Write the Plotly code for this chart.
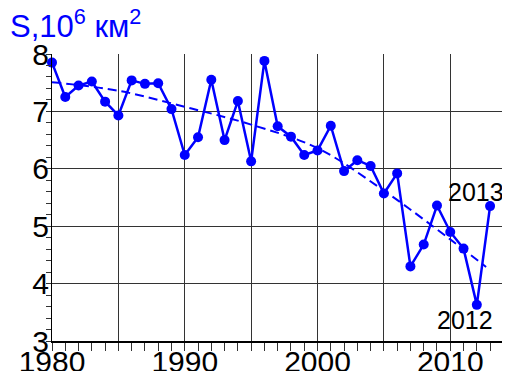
import plotly.graph_objects as go

years = list(range(1980, 2014))
extent = [7.85, 7.25, 7.45, 7.52, 7.17, 6.93, 7.54, 7.48, 7.49, 7.04,
          6.24, 6.55, 7.55, 6.50, 7.18, 6.13, 7.88, 6.74, 6.56, 6.24,
          6.32, 6.75, 5.96, 6.15, 6.05, 5.57, 5.92, 4.30, 4.68, 5.36,
          4.90, 4.61, 3.63, 5.35]

trend_years = [1980, 1985, 1990, 1995, 2000, 2005, 2010, 2012.7]
trend_vals = [7.51, 7.36, 7.08, 6.77, 6.36, 5.62, 4.77, 4.29]

x_grid = [1980, 1985, 1990, 1995, 2000, 2005, 2010]
x_text = ["1980", "", "1990", "", "2000", "", "2010"]
y_grid = [3, 4, 5, 6, 7, 8]
y_text = ["3", "4", "5", "6", "7", "8"]

title_text = "S,10<sup>6</sup> км<sup>2</sup>"
labels = [(2013, 5.35, "2013", -14, 14), (2012, 3.63, "2012", -12, -15)]

BLUE = "#0000FF"
FONT = "Liberation Sans, Arial, sans-serif"

# page offset compensation (body margin in the viewer)
W, H = 502, 363

fig = go.Figure()
fig.add_trace(go.Scatter(
    x=trend_years, y=trend_vals, mode="lines",
    line=dict(color=BLUE, width=2, dash="9px,5px", shape="spline"),
    hoverinfo="skip", cliponaxis=False))
fig.add_trace(go.Scatter(
    x=years, y=extent, mode="lines+markers",
    line=dict(color=BLUE, width=2.5),
    marker=dict(color=BLUE, size=10),
    cliponaxis=False))

for xv, yv, t, xs, ys in labels:
    fig.add_annotation(x=xv, y=yv, text=t, showarrow=False,
                       xshift=xs, yshift=ys,
                       font=dict(family=FONT, size=25, color="black"))

fig.update_layout(
    width=W, height=H,
    margin=dict(l=44, r=0, t=46, b=30, autoexpand=False),
    paper_bgcolor="white", plot_bgcolor="white",
    showlegend=False,
    title=dict(text=title_text, x=2/W, xanchor="left", xref="container",
               y=1-18/H, yanchor="middle", yref="container",
               automargin=False,
               font=dict(family=FONT, size=31, color=BLUE)),
    xaxis=dict(range=[1980, 2014.5], tickmode="array", tickvals=x_grid,
               ticktext=x_text, showgrid=True, gridcolor="#333", gridwidth=1,
               showline=True, linecolor="black", linewidth=2,
               ticks="", zeroline=False, automargin=False,
               ticklabelstandoff=-7,
               tickfont=dict(family=FONT, size=30, color="black"),
               minor=dict(dtick=1, tick0=1980, ticks="outside", ticklen=8,
                          tickcolor="#333", tickwidth=1, showgrid=False)),
    yaxis=dict(range=[3, 8], tickmode="array", tickvals=y_grid,
               ticktext=y_text, showgrid=True, gridcolor="#333", gridwidth=1,
               showline=True, linecolor="black", linewidth=1,
               ticks="", zeroline=False, automargin=False,
               ticklabelstandoff=-4,
               tickfont=dict(family=FONT, size=30, color="black"),
               minor=dict(dtick=0.2, tick0=3, ticks="outside", ticklen=5,
                          tickcolor="#333", tickwidth=1, showgrid=False)),
)

fig.write_html("out.html")
